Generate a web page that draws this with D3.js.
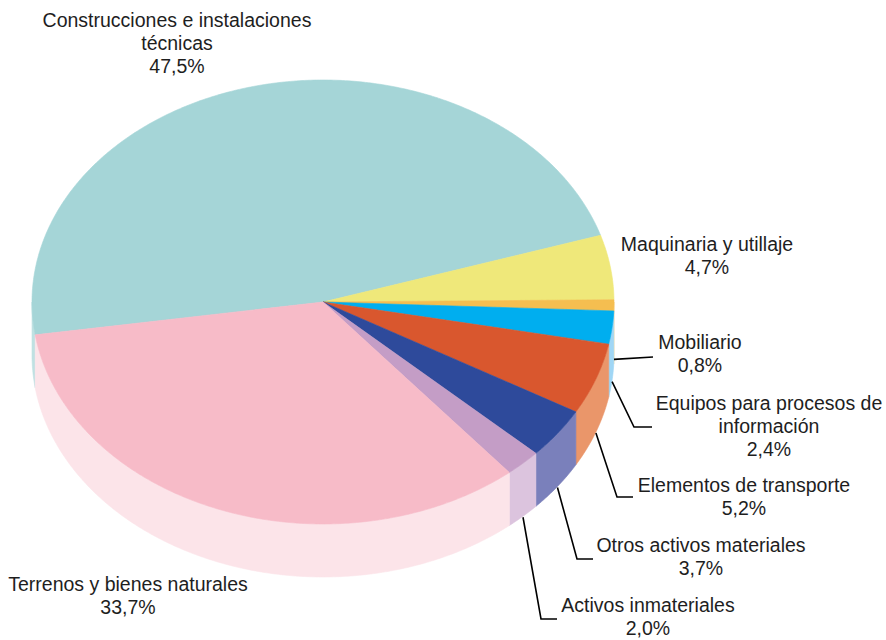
<!DOCTYPE html>
<html>
<head>
<meta charset="utf-8">
<script src="https://cdn.jsdelivr.net/npm/d3@7"></script>
<style>
  html, body { margin: 0; padding: 0; background: #fff; }
  svg { display: block; }
  text { font-family: "Liberation Sans", Arial, sans-serif; font-size: 19.5px; fill: #1e1e1e; }
</style>
</head>
<body>
<svg id="chart" width="886" height="640"></svg>
<script>
// Distribution of fixed assets (share of total, %)
const categories = [
  "Construcciones e instalaciones técnicas",
  "Maquinaria y utillaje",
  "Mobiliario",
  "Equipos para procesos de información",
  "Elementos de transporte",
  "Otros activos materiales",
  "Activos inmateriales",
  "Terrenos y bienes naturales"
];
const values = [47.5, 4.7, 0.8, 2.4, 5.2, 3.7, 2.0, 33.7];
const valueLabels = ["47,5%", "4,7%", "0,8%", "2,4%", "5,2%", "3,7%", "2,0%", "33,7%"];
// Label text broken into lines as printed
const labelLines = [
  ["Construcciones e instalaciones", "técnicas"],
  ["Maquinaria y utillaje"],
  ["Mobiliario"],
  ["Equipos para procesos de", "información"],
  ["Elementos de transporte"],
  ["Otros activos materiales"],
  ["Activos inmateriales"],
  ["Terrenos y bienes naturales"]
];

const topColors  = ["#a5d5d7", "#efe87a", "#f5be50", "#00aeef", "#d9572e", "#2e4a9b", "#c49dc6", "#f7bbc8"];
const sideColors = ["#bfe1e2", "#f5f0a8", "#f8d590", "#a0d6f5", "#ea966a", "#7a80bb", "#dcc4de", "#fce4e9"];

// Label layout: text centre/first baseline, and leader elbow (if any)
const layout = [
  { x: 177, y: 27 },
  { x: 707, y: 251 },
  { x: 700, y: 349, elbow: null, end: [653, 357] },
  { x: 769, y: 410, elbow: [634, 427], end: [652, 427] },
  { x: 744, y: 492, elbow: [617, 497], end: [633, 497] },
  { x: 701, y: 552, elbow: [577, 559], end: [593, 559] },
  { x: 648, y: 612, elbow: [541, 619], end: [557, 619] },
  { x: 128, y: 591 }
];

const cx = 323, cy = 302, rx = 291, ry = 222, depth = 53;
const lineH = 23;

const svg = d3.select("#chart");

// Pie angles (d3 convention: 0 at 12 o'clock, clockwise); first slice starts left of centre
const startDeg = 261.5;
const pie = d3.pie().sort(null).value(d => d)
  .startAngle(startDeg * Math.PI / 180)
  .endAngle(startDeg * Math.PI / 180 + 2 * Math.PI);
const arcs = pie(values);

// Convert pie angle to ellipse parameter (0 = 3 o'clock, y down)
const toT = a => a - Math.PI / 2;
const ept = (t, dy = 0) => [cx + rx * Math.cos(t), cy + ry * Math.sin(t) + dy];
const line = d3.line();

function sample(t0, t1, dy) {
  const n = Math.max(2, Math.ceil(Math.abs(t1 - t0) / 0.01));
  return d3.range(n + 1).map(i => ept(t0 + (t1 - t0) * i / n, dy));
}

// Normalise a slice's t-range so the visible front half [0, π] can be intersected
function frontRange(t0, t1) {
  const out = [];
  for (const k of [-2, 0, 2]) {
    const a = t0 + k * Math.PI, b = t1 + k * Math.PI;
    const lo = Math.max(a, 0), hi = Math.min(b, Math.PI);
    if (hi > lo) out.push([lo, hi]);
  }
  return out;
}

// Sides (front rim) first
const sideG = svg.append("g");
arcs.forEach((d, i) => {
  const t0 = toT(d.startAngle), t1 = toT(d.endAngle);
  frontRange(t0, t1).forEach(([lo, hi]) => {
    const top = sample(lo, hi, 0);
    const bottom = sample(hi, lo, depth);
    sideG.append("path")
      .attr("d", line(top.concat(bottom)) + "Z")
      .attr("fill", sideColors[i])
      .attr("stroke", sideColors[i])
      .attr("stroke-width", 0.6);
  });
});

// Top faces
const topG = svg.append("g");
arcs.forEach((d, i) => {
  const t0 = toT(d.startAngle), t1 = toT(d.endAngle);
  const pts = [[cx, cy]].concat(sample(t0, t1, 0));
  topG.append("path")
    .attr("d", line(pts) + "Z")
    .attr("fill", topColors[i])
    .attr("stroke", topColors[i])
    .attr("stroke-width", 0.6);
});

// Leader lines from the bottom of the rim at each slice's mid angle
const leaderG = svg.append("g");
arcs.forEach((d, i) => {
  const L = layout[i];
  if (!L.end) return;
  const tm = toT((d.startAngle + d.endAngle) / 2);
  const p0 = ept(tm, depth + 1);
  const pts = [p0];
  if (L.elbow) pts.push(L.elbow);
  pts.push(L.end);
  leaderG.append("path")
    .attr("d", line(pts))
    .attr("fill", "none")
    .attr("stroke", "#000")
    .attr("stroke-width", 1.6);
});

// Labels
const labelG = svg.append("g");
categories.forEach((c, i) => {
  const L = layout[i];
  const lines = labelLines[i].concat([valueLabels[i]]);
  const t = labelG.append("text").attr("text-anchor", "middle");
  lines.forEach((s, k) => {
    t.append("tspan").attr("x", L.x).attr("y", L.y + k * lineH).text(s);
  });
});
</script>
</body>
</html>
